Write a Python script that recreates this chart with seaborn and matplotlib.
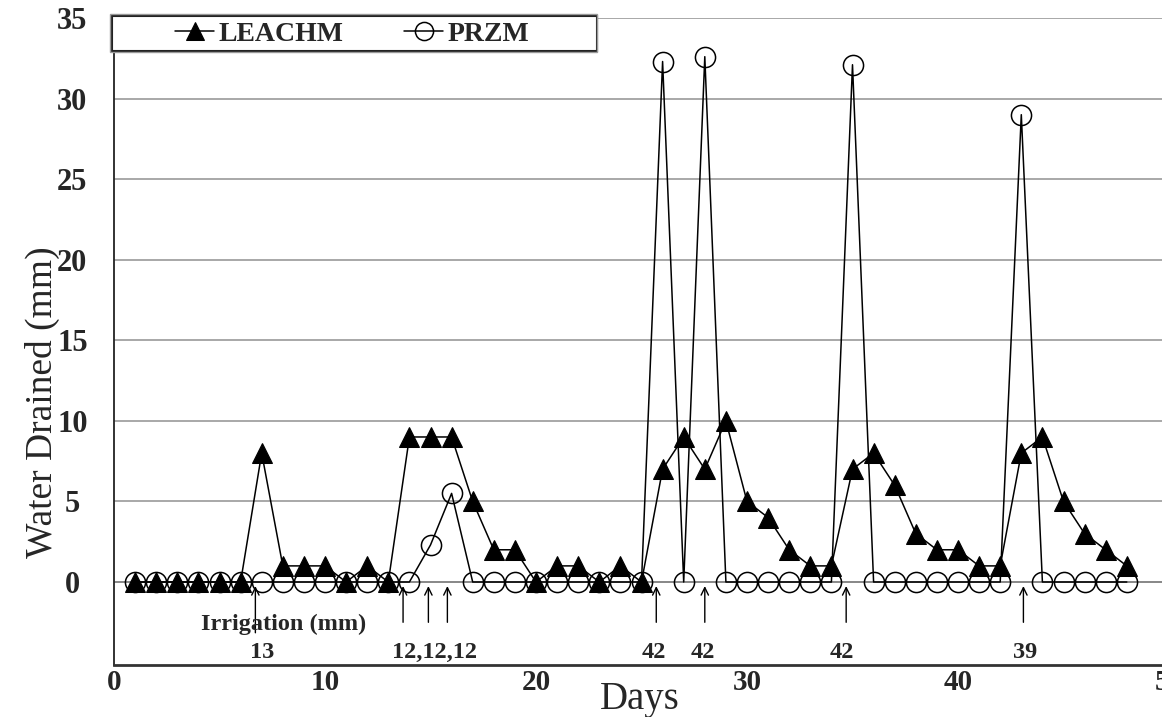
import matplotlib
matplotlib.use("Agg")
import matplotlib.pyplot as plt
import seaborn as sns
import pandas as pd
from matplotlib.patches import Rectangle

# ---------------- data ----------------
days = list(range(1, 49))
leachm = [0, 0, 0, 0, 0, 0, 8, 1, 1, 1, 0, 1, 0, 9, 9, 9, 5, 2, 2, 0,
          1, 1, 0, 1, 0, 7, 9, 7, 10, 5, 4, 2, 1, 1, 7, 8, 6, 3, 2, 2,
          1, 1, 8, 9, 5, 3, 2, 1]
przm = [0, 0, 0, 0, 0, 0, 0, 0, 0, 0, 0, 0, 0, 0, 2.3, 5.5, 0, 0, 0, 0,
        0, 0, 0, 0, 0, 32.3, 0, 32.6, 0, 0, 0, 0, 0, 0, 32.1, 0, 0, 0, 0, 0,
        0, 0, 29.0, 0, 0, 0, 0, 0]
series_names = ["LEACHM", "PRZM"]

irrigation_arrow_days = [6.7, 13.7, 14.9, 15.8, 25.7, 28.0, 34.7, 43.1]
irrigation_arrow_tails = [-3.15, -2.5, -2.5, -2.5, -2.5, -2.5, -2.5, -2.5]
irrigation_labels = ["13", "12,12,12", "42", "42", "42", "39"]
irrigation_label_days = [7.0, 15.2, 25.6, 27.9, 34.5, 43.2]

x_ticks = [0, 10, 20, 30, 40, 50]
y_ticks = [0, 5, 10, 15, 20, 25, 30, 35]

df = pd.DataFrame({"Day": days, "LEACHM": leachm, "PRZM": przm})

# ---------------- style ----------------
sns.set_theme(style="white")
plt.rcParams["font.family"] = ["Liberation Serif", "DejaVu Serif"]

W, H = 1162, 717
PX_PER_DAY = 21.1
fig = plt.figure(figsize=(W / 100, H / 100), dpi=100)
ax = fig.add_axes([114 / W, (H - 665) / H, 50.5 * PX_PER_DAY / W, (665 - 18) / H])

sns.lineplot(data=df, x="Day", y="PRZM", ax=ax, color="black", lw=1.1,
             marker="o", markersize=14.5, markerfacecolor="none",
             markeredgecolor="black", markeredgewidth=1.1, zorder=3)
sns.lineplot(data=df, x="Day", y="LEACHM", ax=ax, color="black", lw=1.1,
             marker="^", markersize=14, markerfacecolor="black",
             markeredgecolor="black", zorder=4)
h_przm, h_leachm = ax.lines[0], ax.lines[1]

ax.set_xlim(0, 50.5)
ax.set_ylim(-5.15, 35)
ax.set_xticks(x_ticks)
ax.set_yticks(y_ticks)
ax.grid(axis="y", color="#a8a8a8", lw=1.4)
ax.grid(axis="x", visible=False)
ax.set_axisbelow(True)
ax.axhline(0, color="#8a8a8a", lw=1.4, zorder=1)

for s in ["top", "right"]:
    ax.spines[s].set_visible(False)
ax.spines["left"].set_color("#222222")
ax.spines["left"].set_linewidth(1.3)
ax.spines["bottom"].set_color("#333333")
ax.spines["bottom"].set_linewidth(2.0)

ax.tick_params(axis="both", length=0)
ax.tick_params(axis="y", pad=30, labelsize=22)
ax.tick_params(axis="x", pad=3, labelsize=21)
for lab in ax.get_yticklabels():
    lab.set_fontweight("bold")
    lab.set_horizontalalignment("center")
for lab in ax.get_xticklabels():
    lab.set_fontweight("bold")

ax.set_ylabel("Water Drained (mm)", fontsize=27, va="center")
ax.yaxis.set_label_coords(-72 / (50.5 * PX_PER_DAY), (665 - 402) / 647)
ax.set_xlabel("Days", fontsize=28, va="center")
ax.xaxis.set_label_coords((640 - 114) / (50.5 * PX_PER_DAY), (665 - 699) / 647)

# irrigation arrows and labels
for xd, tail in zip(irrigation_arrow_days, irrigation_arrow_tails):
    ax.annotate("", xy=(xd, -0.25), xytext=(xd, tail),
                arrowprops=dict(arrowstyle="->,head_length=0.45,head_width=0.22",
                                color="black", lw=1.0, shrinkA=0, shrinkB=0),
                annotation_clip=False)
ax.text(8.06, -2.6, "Irrigation (mm)", ha="center", va="center",
        fontsize=17.5, fontweight="bold", zorder=5)
for xd, txt in zip(irrigation_label_days, irrigation_labels):
    ax.text(xd, -4.35, txt, ha="center", va="center", fontsize=17.5,
            fontweight="bold")

# legend box
rect = Rectangle((112 / W, 1 - 51 / H), 485 / W, 35 / H, transform=fig.transFigure,
                 facecolor="white", edgecolor="#222222", lw=1.5, zorder=10,
                 clip_on=False)
ax.add_artist(rect)
rect2 = Rectangle((110 / W, 1 - 52 / H), 487 / W, 38 / H, transform=fig.transFigure,
                  facecolor="none", edgecolor="#999999", lw=1.0, zorder=10,
                  clip_on=False)
ax.add_artist(rect2)
leg = ax.legend(handles=[h_leachm, h_przm], labels=series_names, loc="center",
                bbox_to_anchor=(352 / W, 1 - 34 / H), bbox_transform=fig.transFigure,
                ncol=2, frameon=False, handlelength=1.4, handletextpad=0.15,
                columnspacing=2.2, markerscale=0.9,
                prop={"family": "Liberation Serif", "weight": "bold", "size": 20})
leg.set_zorder(11)

fig.savefig("out.png", dpi=100)
